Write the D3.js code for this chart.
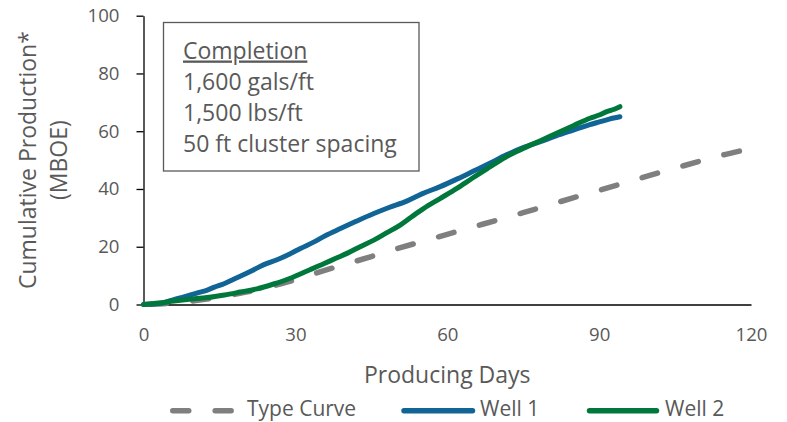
<!DOCTYPE html>
<html>
<head>
<meta charset="utf-8">
<script src="https://cdn.jsdelivr.net/npm/d3@7"></script>
<style>
  html, body { margin: 0; padding: 0; background: #fff; }
  svg { display: block; font-family: "Open Sans", sans-serif; }
</style>
</head>
<body>
<svg id="chart" width="787" height="422"></svg>
<script>
// Axis ticks
const xTicks = [0, 30, 60, 90, 120];
const yTicks = [0, 20, 40, 60, 80, 100];

// Type curve (cumulative MBOE by producing day)
const typeDays   = [0, 5, 10, 15, 20, 25, 30, 35, 40, 45, 50, 55, 60, 65, 70, 75, 80, 85, 90, 95, 100, 105, 110, 115, 120];
const typeValues = [0, 0.4, 1.3, 2.6, 4.2, 6.2, 8.6, 11.4, 14.0, 16.6, 19.3, 21.8, 24.3, 26.8, 29.3, 31.8, 34.4, 37.0, 39.5, 42.1, 44.7, 47.2, 49.7, 52.0, 54.0];

// Well 1
const well1Days   = [0, 2, 4, 5.3, 7, 9.3, 11, 12.6, 14, 15.9, 17.5, 19.1, 21.5, 23.8, 26.5, 29, 31, 33.6, 36, 38.9, 42, 45.5, 48.5, 52, 55, 58.6, 62, 65.2, 68.5, 71.8, 75, 78.4, 81.5, 84.9, 88, 90.2, 92, 94.1];
const well1Values = [0, 0.2, 0.6, 1.3, 2.2, 3.3, 4.2, 5.0, 6.0, 7.2, 8.5, 9.8, 11.8, 13.8, 15.6, 17.6, 19.4, 21.6, 23.9, 26.3, 28.8, 31.5, 33.6, 35.8, 38.3, 40.8, 43.5, 46.2, 49.0, 51.9, 54.3, 56.4, 58.4, 60.4, 62.2, 63.3, 64.2, 65.0];

// Well 2
const well2Days   = [0, 3, 6, 9, 12.6, 16, 19.1, 22.4, 25.7, 29, 32.3, 35.6, 38, 40.2, 43, 45.5, 48, 50.7, 53, 55.3, 58.5, 61.9, 65, 68.5, 71.5, 75.1, 78.4, 81.6, 85, 88.2, 90, 91.5, 93, 94.1];
const well2Values = [0, 0.5, 1.2, 1.8, 2.4, 3.3, 4.3, 5.4, 7.1, 9.1, 11.6, 14.1, 16.0, 17.7, 20.2, 22.3, 24.8, 27.5, 30.4, 33.2, 36.6, 40.2, 43.8, 47.7, 51.0, 54.1, 56.7, 59.3, 62.0, 64.5, 65.6, 66.8, 67.6, 68.5];

// Legend and annotation text
const seriesNames = ["Type Curve", "Well 1", "Well 2"];
const seriesColors = ["#7f7f7f", "#106496", "#00783c"];
const completionLines = ["Completion", "1,600 gals/ft", "1,500 lbs/ft", "50 ft cluster spacing"];

const TEXT = "#595959";
const svg = d3.select("#chart");

const x = d3.scaleLinear().domain([0, 120]).range([143.5, 751]);
const y = d3.scaleLinear().domain([0, 100]).range([304.5, 15.7]);

// Y axis
const yAxis = svg.append("g")
  .attr("transform", `translate(${x(0)},0)`)
  .call(d3.axisLeft(y).tickValues(yTicks).tickSize(7).tickSizeOuter(0).tickPadding(17));
yAxis.select(".domain").attr("stroke", "#000").attr("stroke-width", 1.3);
yAxis.selectAll(".tick line").attr("stroke", "#000").attr("stroke-width", 1.3);
yAxis.selectAll(".tick text").attr("fill", TEXT).attr("font-size", 18.6)
  .attr("font-family", "Open Sans, sans-serif");

// X axis
const xAxis = svg.append("g")
  .attr("transform", `translate(0,${y(0)})`)
  .call(d3.axisBottom(x).tickValues(xTicks).tickSize(0).tickSizeOuter(0).tickPadding(23));
xAxis.select(".domain").attr("stroke", "#000").attr("stroke-width", 1.3);
xAxis.selectAll(".tick text").attr("fill", TEXT).attr("font-size", 18.6)
  .attr("font-family", "Open Sans, sans-serif");

// Axis titles
svg.append("text")
  .attr("x", (x(0) + x(120)) / 2).attr("y", 383)
  .attr("text-anchor", "middle").attr("font-size", 23).attr("fill", TEXT)
  .text("Producing Days");
svg.append("text")
  .attr("transform", `translate(36,${(y(0) + y(100)) / 2}) rotate(-90)`)
  .attr("text-anchor", "middle").attr("font-size", 23).attr("fill", TEXT)
  .text("Cumulative Production*");
svg.append("text")
  .attr("transform", `translate(67,${(y(0) + y(100)) / 2}) rotate(-90)`)
  .attr("text-anchor", "middle").attr("font-size", 23).attr("fill", TEXT)
  .text("(MBOE)");

// Completion design note
svg.append("rect")
  .attr("x", 163.5).attr("y", 22.5).attr("width", 255.5).attr("height", 148.5)
  .attr("fill", "#fff").attr("stroke", TEXT).attr("stroke-width", 1.3);
const noteBaselines = [58.5, 89.5, 120.5, 151.5];
svg.append("g").selectAll("text")
  .data(completionLines)
  .join("text")
  .attr("x", 183).attr("y", (d, i) => noteBaselines[i])
  .attr("font-size", 23).attr("fill", TEXT)
  .style("text-decoration", (d, i) => i === 0 ? "underline" : null)
  .text(d => d);

// Series lines
const line = d3.line()
  .x(d => x(d[0])).y(d => y(d[1]))
  .curve(d3.curveMonotoneX);

const DASH = "16,26.4";

svg.append("path")
  .datum(d3.zip(typeDays, typeValues))
  .attr("d", line)
  .attr("fill", "none").attr("stroke", seriesColors[0])
  .attr("stroke-width", 5.5).attr("stroke-linecap", "round")
  .attr("stroke-dasharray", DASH).attr("stroke-dashoffset", -7);

svg.append("path")
  .datum(d3.zip(well1Days, well1Values))
  .attr("d", line)
  .attr("fill", "none").attr("stroke", seriesColors[1])
  .attr("stroke-width", 5).attr("stroke-linecap", "round").attr("stroke-linejoin", "round");

svg.append("path")
  .datum(d3.zip(well2Days, well2Values))
  .attr("d", line)
  .attr("fill", "none").attr("stroke", seriesColors[2])
  .attr("stroke-width", 5).attr("stroke-linecap", "round").attr("stroke-linejoin", "round");

// Legend along the bottom edge
const legendY = 410.8;
const legendItems = [
  { x0: 172.75, x1: 232.25, tx: 247, dash: DASH },
  { x0: 404, x1: 472.5, tx: 480, dash: null },
  { x0: 589.5, x1: 656.5, tx: 665, dash: null }
];
const lg = svg.append("g").selectAll("g")
  .data(legendItems)
  .join("g");
lg.append("line")
  .attr("x1", d => d.x0).attr("x2", d => d.x1)
  .attr("y1", legendY).attr("y2", legendY)
  .attr("stroke", (d, i) => seriesColors[i])
  .attr("stroke-width", 5.5).attr("stroke-linecap", "round")
  .attr("stroke-dasharray", d => d.dash);
lg.append("text")
  .attr("x", d => d.tx).attr("y", 416.3)
  .attr("font-size", 21).attr("fill", TEXT)
  .text((d, i) => seriesNames[i]);
</script>
</body>
</html>
